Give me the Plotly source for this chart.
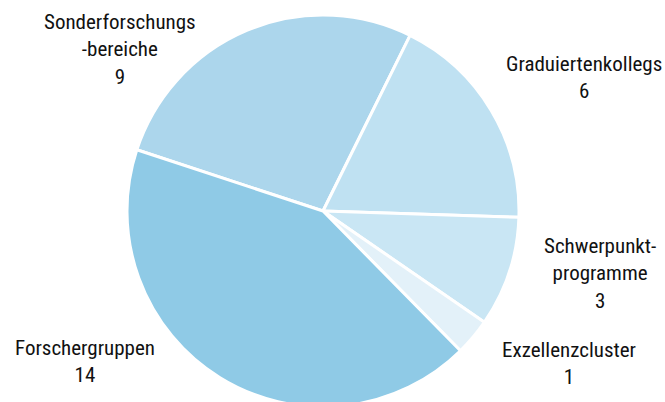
import plotly.graph_objects as go

labels = ["Sonderforschungs-<br>bereiche", "Graduiertenkollegs", "Schwerpunktprogramme", "Exzellenzcluster", "Forschergruppen"]
label_text = ["Sonderforschungs<br>-bereiche", "Graduiertenkollegs", "Schwerpunkt-<br>programme", "Exzellenzcluster", "Forschergruppen"]
values = [9, 6, 3, 1, 14]
colors = ["#acd6ec", "#bfe1f2", "#c9e6f4", "#e3f1f9", "#8fcae6"]

W, H = 665, 412
cx, cy, r = 323, 211, 196

fig = go.Figure(go.Pie(
    labels=labels,
    values=values,
    sort=False,
    direction="clockwise",
    rotation=-71.8,
    marker=dict(colors=colors, line=dict(color="white", width=3)),
    textinfo="none",
    hoverinfo="label+value",
    domain=dict(x=[(cx - r) / W, (cx + r) / W], y=[(H - cy - r) / H, (H - cy + r) / H]),
    showlegend=False,
))

# label anchor positions (pixel centres) for the outside labels
label_pos = [(120, 49), (584, 77), (600, 273), (569, 363), (85, 361)]
font = dict(family="Roboto Condensed, Liberation Sans Narrow, Arial Narrow, Liberation Sans, Arial, sans-serif",
            size=21, color="#111111")
for txt, v, (x, y) in zip(label_text, values, label_pos):
    fig.add_annotation(
        x=x / W, y=1 - y / H, xref="paper", yref="paper",
        text=f"{txt}<br>{v}", showarrow=False, font=font,
        xanchor="center", yanchor="middle", align="center",
    )

fig.update_layout(
    width=W, height=H,
    margin=dict(l=0, r=0, t=0, b=0),
    paper_bgcolor="white", plot_bgcolor="white",
)
fig.write_html(
    "out.html",
    config={"displayModeBar": False},
    post_script="document.body.style.margin='0';document.documentElement.style.overflow='hidden';document.body.style.overflow='hidden';",
)
